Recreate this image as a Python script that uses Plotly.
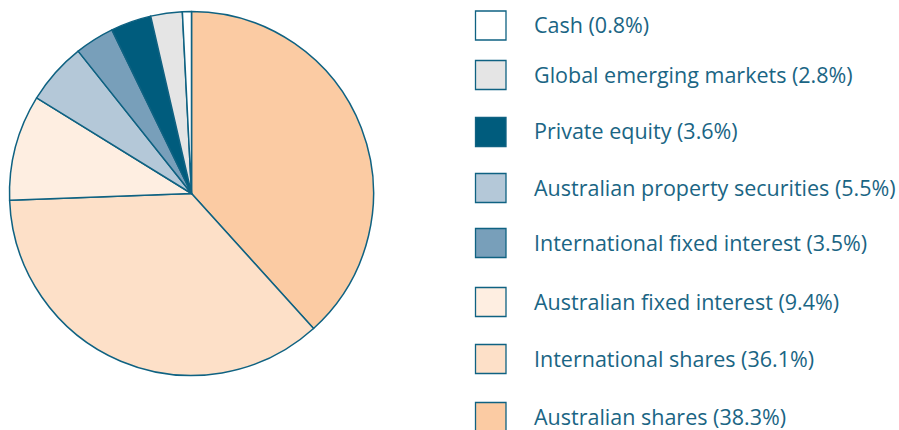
import plotly.graph_objects as go

W, H = 899, 430

# Data (clockwise from 12 o'clock)
labels = ["Australian shares", "International shares", "Australian fixed interest",
          "Australian property securities", "International fixed interest",
          "Private equity", "Global emerging markets", "Cash"]
values = [38.3, 36.1, 9.4, 5.5, 3.5, 3.6, 2.8, 0.8]
legend_order = ["Cash", "Global emerging markets", "Private equity",
                "Australian property securities", "International fixed interest",
                "Australian fixed interest", "International shares", "Australian shares"]

# Styles
colors = ["#FBCBA3", "#FDE0C8", "#FEEEE1", "#B4C8D8", "#789FBA", "#005C7D", "#E5E5E5", "#FFFFFF"]
line_color = "#0F6282"
text_color = "#1A6584"
legend_centers_px = [25.5, 75, 132, 188, 243, 302, 359, 417]

def px_x(x):
    return x / W

def px_y(y):
    return 1 - y / H

fig = go.Figure()
fig.add_trace(go.Pie(
    labels=labels, values=values, sort=False, direction="clockwise", rotation=0,
    marker=dict(colors=colors, line=dict(color=line_color, width=1.5)),
    textinfo="none", hoverinfo="label+percent", showlegend=False,
    domain=dict(x=[px_x(9.5), px_x(373.5)], y=[px_y(375.5), px_y(11.5)]),
))

shapes = []
annotations = []
color_of = dict(zip(labels, colors))
value_of = dict(zip(labels, values))
for name, cy in zip(legend_order, legend_centers_px):
    shapes.append(dict(
        type="rect", xref="paper", yref="paper",
        x0=px_x(475.5), x1=px_x(506), y0=px_y(cy + 14.5), y1=px_y(cy - 14.5),
        fillcolor=color_of[name], line=dict(color=line_color, width=1.3),
    ))
    annotations.append(dict(
        xref="paper", yref="paper", x=px_x(532), y=px_y(cy - 1), xanchor="left", yanchor="middle",
        text=f"{name} ({value_of[name]}%)", showarrow=False,
        font=dict(family="Open Sans", size=21.5, color=text_color),
    ))

fig.update_layout(
    width=W, height=H, margin=dict(l=0, r=0, t=0, b=0),
    paper_bgcolor="white", plot_bgcolor="white",
    shapes=shapes, annotations=annotations,
)

fig.write_html("out.html", config={"displayModeBar": False},
               post_script="document.body.style.margin='0';document.body.style.overflow='hidden';")
